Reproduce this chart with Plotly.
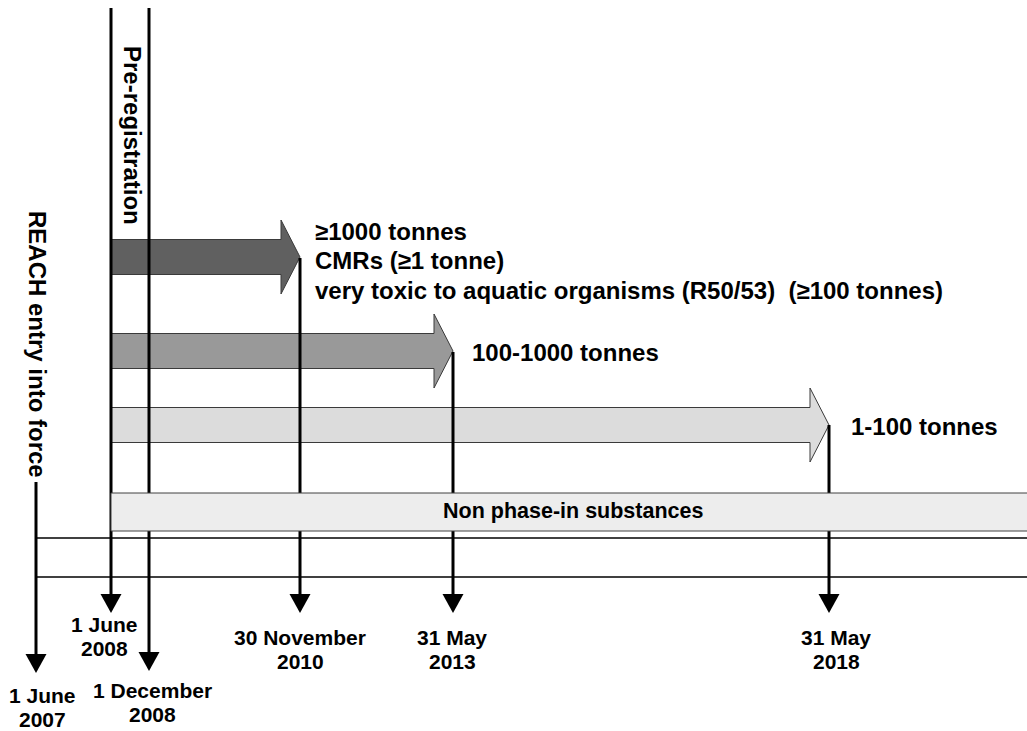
import plotly.graph_objects as go

# ---------------- data ----------------
date_line1 = ["1 June", "1 June", "1 December", "30 November", "31 May", "31 May"]
date_line2 = ["2007", "2008", "2008", "2010", "2013", "2018"]
event_titles = ["REACH entry into force", "Pre-registration"]
band_lines = [
    ["≥1000 tonnes", "CMRs (≥1 tonne)",
     "very toxic to aquatic organisms (R50/53)&nbsp;&nbsp;(≥100 tonnes)"],
    ["100-1000 tonnes"],
    ["1-100 tonnes"],
]
band_deadline = [3, 4, 5]          # index into the dates above
non_phase_in_label = "Non phase-in substances"

# ---------------- layout (diagram geometry, pixels) ----------------
W, H = 1027, 731
date_x = [36, 111, 149, 300, 453, 829]
date_tip_y = [673, 613, 671, 613, 613, 613]
label_x = [42, 104, 152, 300, 452, 836]
label_y1 = [695, 624, 690, 637, 637, 637]
label_gap = 24
arrow_x0 = 111
arrow_cy = [257, 351, 425]
arrow_colors = ["#606060", "#999999", "#dcdcdc"]
head_len = 19
body_half, head_half = 17.5, 37
band_text_x = [313, 470, 849]
band_text_y = [[231, 260, 290], [352], [426]]
box_y = (493, 531)
hlines_y = [538, 577]

FONT = "'Liberation Sans', Arial, sans-serif"

fig = go.Figure()
fig.add_trace(go.Scatter(x=[0, W], y=[0, H], mode="markers",
                         marker=dict(opacity=0), hoverinfo="skip", showlegend=False))

shapes = []
# Tonnage arrows (below lines)
for i, cy in enumerate(arrow_cy):
    tip = date_x[band_deadline[i]]
    hb = tip - head_len
    path = (f"M {arrow_x0},{cy-body_half} L {hb},{cy-body_half} L {hb},{cy-head_half} "
            f"L {tip},{cy} L {hb},{cy+head_half} L {hb},{cy+body_half} "
            f"L {arrow_x0},{cy+body_half} Z")
    shapes.append(dict(type="path", path=path, xref="x", yref="y",
                       fillcolor=arrow_colors[i], line=dict(color="#3a3a3a", width=1)))

# Vertical date lines
line_top = [482, 8, 8, arrow_cy[0] + 1, arrow_cy[1] + 1, arrow_cy[2]]
for i, x in enumerate(date_x):
    tip = date_tip_y[i]
    shapes.append(dict(type="line", x0=x, x1=x, y0=line_top[i], y1=tip - 16,
                       xref="x", yref="y", line=dict(color="black", width=3)))
    shapes.append(dict(type="path",
                       path=f"M {x-10.5},{tip-19} L {x+10.5},{tip-19} L {x},{tip} Z",
                       xref="x", yref="y", fillcolor="black", line=dict(width=0)))

# Non phase-in box (above lines)
shapes.append(dict(type="rect", x0=arrow_x0, x1=W + 5, y0=box_y[0], y1=box_y[1],
                   xref="x", yref="y", fillcolor="#ededed",
                   line=dict(color="#404040", width=1)))
# Horizontal lines
for y in hlines_y:
    shapes.append(dict(type="line", x0=date_x[0], x1=W + 5, y0=y, y1=y,
                       xref="x", yref="y", line=dict(color="black", width=1.5)))

ann = []
# Rotated titles
ann.append(dict(x=38, y=344, text=f"<b>{event_titles[0]}</b>", textangle=90,
                showarrow=False, xanchor="center", yanchor="middle",
                font=dict(size=24, color="black", family=FONT)))
ann.append(dict(x=133, y=135, text=f"<b>{event_titles[1]}</b>", textangle=90,
                showarrow=False, xanchor="center", yanchor="middle",
                font=dict(size=24, color="black", family=FONT)))
# Band labels
for i, lines in enumerate(band_lines):
    for j, t in enumerate(lines):
        ann.append(dict(x=band_text_x[i], y=band_text_y[i][j], text=f"<b>{t}</b>",
                        showarrow=False, xanchor="left", yanchor="middle",
                        font=dict(size=24, color="black", family=FONT)))
# Date labels
for i in range(len(date_line1)):
    for t, y in ((date_line1[i], label_y1[i]), (date_line2[i], label_y1[i] + label_gap)):
        ann.append(dict(x=label_x[i], y=y, text=f"<b>{t}</b>", showarrow=False,
                        xanchor="center", yanchor="middle",
                        font=dict(size=21, color="black", family=FONT)))
# Box label
ann.append(dict(x=573, y=511, text=f"<b>{non_phase_in_label}</b>", showarrow=False,
                xanchor="center", yanchor="middle",
                font=dict(size=21.5, color="black", family=FONT)))

fig.update_layout(
    width=W, height=H, margin=dict(l=0, r=0, t=0, b=0),
    paper_bgcolor="white", plot_bgcolor="white",
    xaxis=dict(range=[0, W], visible=False, fixedrange=True),
    yaxis=dict(range=[H, 0], visible=False, fixedrange=True),
    shapes=shapes, annotations=ann, showlegend=False,
)
fig.write_html("out.html", config={"displayModeBar": False},
               post_script="document.body.style.margin='0';document.body.style.padding='0';"
                           "document.body.style.overflow='hidden';")
